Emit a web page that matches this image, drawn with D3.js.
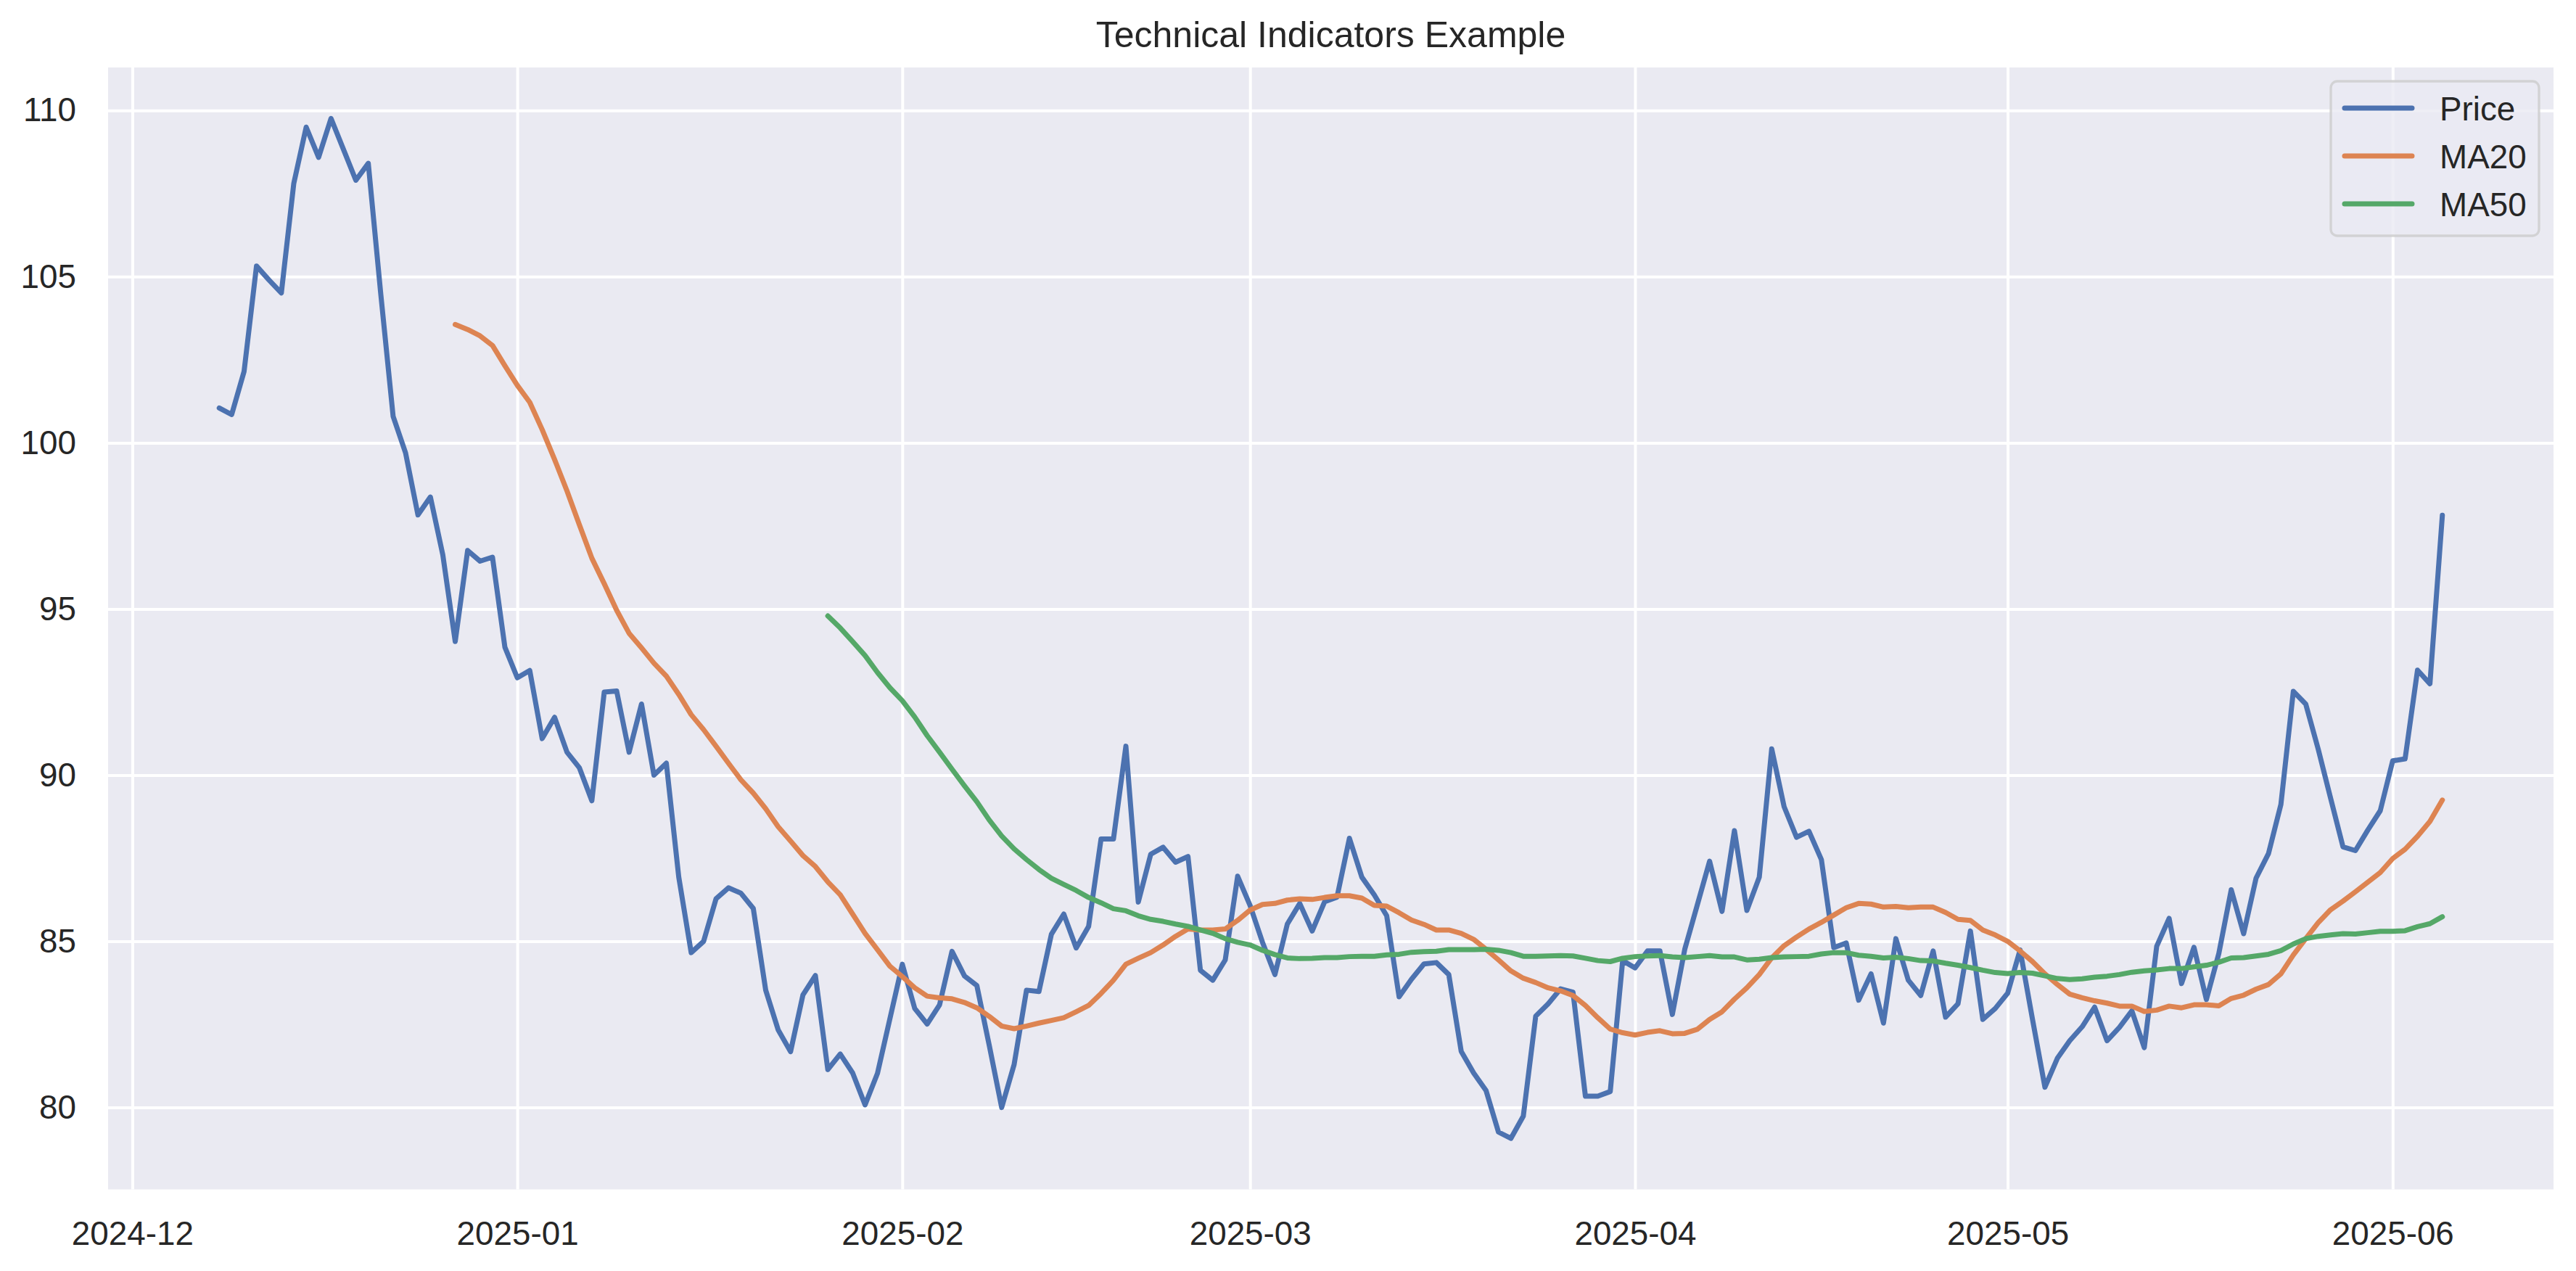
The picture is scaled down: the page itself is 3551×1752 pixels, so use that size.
<!DOCTYPE html>
<html>
<head>
<meta charset="utf-8">
<script src="https://cdn.jsdelivr.net/npm/d3@7"></script>
<style>
  body { margin: 0; background: white; }
  text { font-family: "Liberation Sans", Arial, sans-serif; fill: #262626; }
</style>
</head>
<body>
<div id="chart"></div>
<script>
// first and last day of the daily series
var startDate = "2024-12-08";
var endDate   = "2025-06-05";

// closing price, one value per day
var price = [
  101.05, 100.85, 102.15, 105.32, 104.90, 104.51, 107.80, 109.50, 108.59, 109.76,
  108.83, 107.90, 108.41, 104.50, 100.80,  99.70,  97.83,  98.37,  96.63,  94.02,
   96.76,  96.44,  96.56,  93.85,  92.93,  93.15,  91.10,  91.74,  90.69,  90.22,
   89.23,  92.50,  92.53,  90.69,  92.14,  90.00,  90.36,  86.93,  84.66,  85.00,
   86.28,  86.61,  86.45,  85.99,  83.53,  82.34,  81.68,  83.39,  83.97,  81.14,
   81.61,  81.04,  80.08,  81.03,  82.67,  84.31,  82.98,  82.51,  83.09,  84.70,
   83.96,  83.67,  81.87,  80.00,  81.29,  83.53,  83.49,  85.21,  85.82,  84.80,
   85.45,  88.08,  88.08,  90.87,  86.18,  87.62,  87.83,  87.38,  87.55,  84.13,
   83.83,  84.44,  86.96,  86.08,  84.97,  84.00,  85.52,  86.14,  85.31,  86.19,
   86.33,  88.10,  86.93,  86.40,  85.77,  83.33,  83.86,  84.32,  84.36,  84.00,
   81.69,  81.04,  80.51,  79.26,  79.07,  79.74,  82.75,  83.12,  83.57,  83.47,
   80.34,  80.34,  80.48,  84.42,  84.20,  84.71,  84.71,  82.80,  84.76,  86.08,
   87.41,  85.90,  88.33,  85.93,  86.93,  90.79,  89.05,  88.13,  88.31,  87.46,
   84.81,  84.95,  83.23,  84.02,  82.54,  85.08,  83.83,  83.37,  84.71,  82.72,
   83.12,  85.31,  82.65,  82.98,  83.44,  84.74,  82.65,  80.61,  81.48,  82.01,
   82.43,  83.02,  82.01,  82.41,  82.91,  81.80,  84.85,  85.69,  83.73,  84.82,
   83.25,  84.63,  86.55,  85.23,  86.90,  87.64,  89.12,  92.52,  92.14,  90.79,
   89.31,  87.84,  87.73,  88.35,  88.93,  90.43,  90.49,  93.16,  92.75,  97.82
];

// 20 day moving average, first value on day 20
var ma20Start = 19;
var ma20 = [
  103.56, 103.41, 103.22, 102.93, 102.32, 101.73, 101.22, 100.40,  99.50,  98.55,
   97.53,  96.53,  95.76,  94.96,  94.27,  93.83,  93.37,  92.98,  92.43,  91.82,
   91.37,  90.87,  90.36,  89.86,  89.46,  88.99,  88.45,  88.02,  87.58,  87.25,
   86.79,  86.40,  85.82,  85.24,  84.75,  84.25,  83.94,  83.60,  83.35,  83.30,
   83.27,  83.16,  83.00,  82.74,  82.45,  82.37,  82.45,  82.54,  82.62,  82.70,
   82.88,  83.07,  83.43,  83.83,  84.31,  84.49,  84.66,  84.89,  85.15,  85.37,
   85.34,  85.34,  85.37,  85.63,  85.94,  86.11,  86.14,  86.24,  86.28,  86.26,
   86.32,  86.37,  86.37,  86.30,  86.08,  86.06,  85.86,  85.64,  85.51,  85.34,
   85.34,  85.24,  85.06,  84.76,  84.44,  84.11,  83.89,  83.76,  83.60,  83.51,
   83.37,  83.07,  82.70,  82.36,  82.25,  82.18,  82.26,  82.31,  82.22,  82.23,
   82.35,  82.65,  82.88,  83.26,  83.60,  84.00,  84.50,  84.87,  85.13,  85.37,
   85.57,  85.79,  86.01,  86.14,  86.12,  86.03,  86.05,  86.01,  86.03,  86.03,
   85.87,  85.66,  85.63,  85.34,  85.19,  85.00,  84.71,  84.39,  84.02,  83.70,
   83.41,  83.30,  83.21,  83.14,  83.05,  83.05,  82.89,  82.93,  83.05,  83.00,
   83.09,  83.09,  83.06,  83.28,  83.38,  83.56,  83.70,  84.02,  84.59,  85.08,
   85.56,  85.95,  86.21,  86.49,  86.78,  87.07,  87.49,  87.77,  88.16,  88.61,
   89.25
];

// 50 day moving average, first value on day 50
var ma50Start = 49;
var ma50 = [
  94.79, 94.43, 94.02, 93.60, 93.09, 92.63, 92.24, 91.75, 91.19, 90.69,
  90.18, 89.68, 89.20, 88.65, 88.17, 87.78, 87.46, 87.16, 86.90, 86.71,
  86.53, 86.32, 86.16, 85.98, 85.92, 85.77, 85.66, 85.60, 85.52, 85.45,
  85.34, 85.24, 85.08, 84.97, 84.89, 84.73, 84.60, 84.50, 84.48, 84.49,
  84.51, 84.51, 84.54, 84.55, 84.55, 84.59, 84.61, 84.67, 84.69, 84.70,
  84.75, 84.75, 84.75, 84.76, 84.73, 84.66, 84.55, 84.55, 84.56, 84.57,
  84.56, 84.49, 84.42, 84.39, 84.49, 84.54, 84.56, 84.57, 84.53, 84.51,
  84.54, 84.57, 84.53, 84.53, 84.44, 84.46, 84.51, 84.53, 84.54, 84.55,
  84.62, 84.66, 84.66, 84.58, 84.55, 84.50, 84.52, 84.48, 84.42, 84.41,
  84.34, 84.28, 84.21, 84.13, 84.06, 84.03, 84.06, 84.04, 83.96, 83.88,
  83.85, 83.87, 83.92, 83.95, 84.00, 84.07, 84.11, 84.14, 84.18, 84.18,
  84.23, 84.28, 84.37, 84.50, 84.51, 84.56, 84.61, 84.72, 84.92, 85.08,
  85.15, 85.19, 85.23, 85.22, 85.26, 85.30, 85.30, 85.32, 85.44, 85.53,
  85.74
];

// y tick values and series names / colours
var yTicks      = [80, 85, 90, 95, 100, 105, 110];
var seriesNames = ["Price", "MA20", "MA50"];
var colors      = ["#4C72B0", "#DD8452", "#55A868"];

// canvas and plot box
var width  = 3551;
var height = 1752;
var plot   = {left: 149, top: 93, right: 3520, bottom: 1639.5};
var fs     = 45.8;

var parse = d3.timeParse("%Y-%m-%d");
var days  = d3.timeDay.range(parse(startDate), d3.timeDay.offset(parse(endDate), 1));

// build point lists for the three lines
var series = [
  price.map(function(v, i) { return {date: days[i], value: v}; }),
  ma20.map(function(v, i) { return {date: days[i + ma20Start], value: v}; }),
  ma50.map(function(v, i) { return {date: days[i + ma50Start], value: v}; })
];

// scales with the 5% margins matplotlib adds
var t0 = days[0].getTime(), t1 = days[days.length - 1].getTime();
var tPad = (t1 - t0) * 0.05;
var xScale = d3.scaleTime()
               .domain([new Date(t0 - tPad), new Date(t1 + tPad)])
               .range([plot.left, plot.right]);

var all  = d3.merge(series).map(function(d) { return d.value; });
var yMin = d3.min(all), yMax = d3.max(all);
var yPad = (yMax - yMin) * 0.05;
var yScale = d3.scaleLinear()
               .domain([yMin - yPad, yMax + yPad])
               .range([plot.bottom, plot.top]);

var canvas = d3.select("#chart")
               .append("svg")
               .attr("width", width)
               .attr("height", height);

canvas.append("rect")
      .attr("width", width)
      .attr("height", height)
      .style("fill", "white");

// axes background
canvas.append("rect")
      .attr("x", plot.left)
      .attr("y", plot.top)
      .attr("width", plot.right - plot.left)
      .attr("height", plot.bottom - plot.top)
      .style("fill", "#EAEAF2");

// x axis with full height white grid
var xAxis = d3.axisBottom(xScale)
              .ticks(d3.timeMonth.every(1))
              .tickFormat(d3.timeFormat("%Y-%m"))
              .tickSizeInner(-(plot.bottom - plot.top))
              .tickSizeOuter(0)
              .tickPadding(44);

canvas.append("g")
      .attr("transform", "translate(0," + plot.bottom + ")")
      .call(xAxis)
      .call(function(g) {
        g.select(".domain").remove();
        g.selectAll("line").style("stroke", "white").style("stroke-width", 4);
        g.selectAll("text").style("font-size", fs + "px").style("fill", "#262626");
      });

var yAxis = d3.axisLeft(yScale)
              .tickValues(yTicks)
              .tickSizeInner(-(plot.right - plot.left))
              .tickSizeOuter(0)
              .tickPadding(44);

canvas.append("g")
      .attr("transform", "translate(" + plot.left + ",0)")
      .call(yAxis)
      .call(function(g) {
        g.select(".domain").remove();
        g.selectAll("line").style("stroke", "white").style("stroke-width", 4);
        g.selectAll("text").style("font-size", fs + "px").style("fill", "#262626");
      });

// the three lines
var line = d3.line()
             .x(function(d) { return xScale(d.date); })
             .y(function(d) { return yScale(d.value); });

canvas.append("g")
      .selectAll("path")
      .data(series)
      .enter()
        .append("path")
        .attr("d", line)
        .style("fill", "none")
        .style("stroke", function(d, i) { return colors[i]; })
        .style("stroke-width", 7)
        .style("stroke-linejoin", "round")
        .style("stroke-linecap", "round");

// title
canvas.append("text")
      .text("Technical Indicators Example")
      .attr("x", (plot.left + plot.right) / 2)
      .attr("y", 65)
      .attr("text-anchor", "middle")
      .style("font-size", "50px");

// legend box in the upper right corner
var legend = canvas.append("g");

legend.append("rect")
      .attr("x", 3213)
      .attr("y", 112)
      .attr("width", 287)
      .attr("height", 213)
      .attr("rx", 9)
      .style("fill", "rgba(234,234,242,0.8)")
      .style("stroke", "rgba(204,204,204,0.8)")
      .style("stroke-width", 3.3);

var items = legend.selectAll("g.item")
                  .data(seriesNames)
                  .enter()
                    .append("g")
                    .attr("class", "item")
                    .attr("transform", function(d, i) { return "translate(0," + (149 + i * 66) + ")"; });

items.append("line")
     .attr("x1", 3232)
     .attr("x2", 3325)
     .style("stroke", function(d, i) { return colors[i]; })
     .style("stroke-width", 7)
     .style("stroke-linecap", "round");

items.append("text")
     .text(function(d) { return d; })
     .attr("x", 3363)
     .attr("y", 17)
     .style("font-size", fs + "px");
</script>
</body>
</html>
